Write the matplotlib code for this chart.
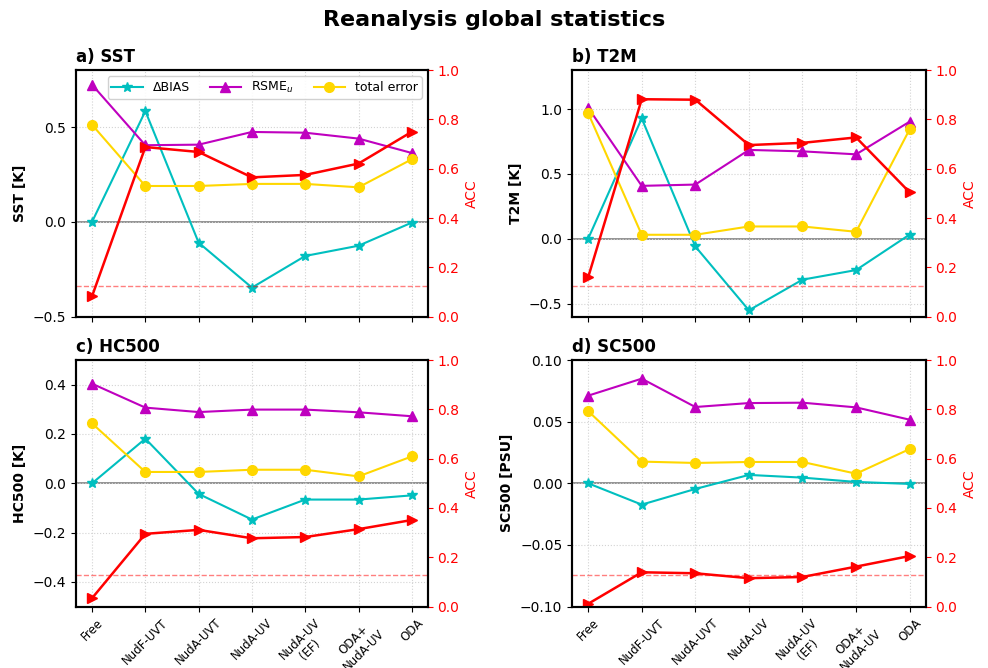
import numpy as np
import matplotlib
matplotlib.use("Agg")
import matplotlib.pyplot as plt

# experiments on the x axis
experiments = ['Free', 'NudF-UVT', 'NudA-UVT', 'NudA-UV', 'NudA-UV\n(EF)', 'ODA+\nNudA-UV', 'ODA']

# a) SST
sst_bias = [0.0, 0.584, -0.11, -0.347, -0.18, -0.126, -0.004]
sst_rmse = [0.723, 0.404, 0.407, 0.474, 0.470, 0.439, 0.363]
sst_total = [0.512, 0.189, 0.189, 0.200, 0.200, 0.182, 0.330]
sst_acc = [0.083, 0.688, 0.668, 0.565, 0.575, 0.621, 0.750]

# b) T2M
t2m_bias = [0.0, 0.928, -0.059, -0.551, -0.315, -0.241, 0.033]
t2m_rmse = [1.01, 0.408, 0.418, 0.685, 0.674, 0.651, 0.903]
t2m_total = [0.969, 0.031, 0.031, 0.095, 0.095, 0.054, 0.844]
t2m_acc = [0.159, 0.882, 0.880, 0.696, 0.705, 0.727, 0.504]

# c) HC500
hc_bias = [0.0, 0.181, -0.043, -0.147, -0.066, -0.066, -0.049]
hc_rmse = [0.404, 0.307, 0.289, 0.299, 0.299, 0.288, 0.272]
hc_total = [0.243, 0.046, 0.046, 0.055, 0.055, 0.028, 0.109]
hc_acc = [0.034, 0.295, 0.311, 0.277, 0.282, 0.314, 0.351]

# d) SC500
sc_bias = [0.0, -0.0173, -0.0046, 0.0068, 0.0046, 0.0011, -0.0005]
sc_rmse = [0.0711, 0.0849, 0.0619, 0.0651, 0.0654, 0.0616, 0.0516]
sc_total = [0.0586, 0.0176, 0.0165, 0.0173, 0.0173, 0.0078, 0.0278]
sc_acc = [0.011, 0.139, 0.135, 0.115, 0.120, 0.162, 0.205]

# ACC significance threshold
acc_sig = 0.126

panels = [
    ('a) SST', 'SST [K]', sst_bias, sst_rmse, sst_total, sst_acc, (-0.5, 0.8), [-0.5, 0.0, 0.5]),
    ('b) T2M', 'T2M [K]', t2m_bias, t2m_rmse, t2m_total, t2m_acc, (-0.6, 1.3), [-0.5, 0.0, 0.5, 1.0]),
    ('c) HC500', 'HC500 [K]', hc_bias, hc_rmse, hc_total, hc_acc, (-0.5, 0.5), [-0.4, -0.2, 0.0, 0.2, 0.4]),
    ('d) SC500', 'SC500 [PSU]', sc_bias, sc_rmse, sc_total, sc_acc, (-0.1, 0.1), [-0.10, -0.05, 0.0, 0.05, 0.10]),
]

# axes positions [left, bottom, width, height] in figure fractions
positions = [
    [0.077, 0.526, 0.356, 0.369],
    [0.579, 0.526, 0.358, 0.369],
    [0.077, 0.092, 0.356, 0.369],
    [0.579, 0.092, 0.358, 0.369],
]

fig = plt.figure(figsize=(9.88, 6.68), dpi=100)
fig.suptitle('Reanalysis global statistics', fontsize=16, fontweight='bold', y=0.985)

x = np.arange(len(experiments))

for i, (title, ylab, bias, rmse, total, acc, ylim, yticks) in enumerate(panels):
    ax = fig.add_axes(positions[i])
    ax.grid(True, linestyle=':', color='lightgray', linewidth=0.8)
    ax.axhline(0, color='gray', linewidth=1.2, zorder=1)
    ax.plot(x, bias, color='c', marker='*', markersize=7, linewidth=1.5, label='\u0394BIAS')
    ax.plot(x, rmse, color='m', marker='^', markersize=7, linewidth=1.5, label=r'RSME$_u$')
    ax.plot(x, total, color='gold', marker='o', markersize=7, linewidth=1.5, label='total error')
    ax.set_ylim(ylim)
    ax.set_yticks(yticks)
    ax.tick_params(axis='y', labelsize=10)
    ax.set_xlim(-0.3, len(experiments) - 0.7)
    ax.set_xticks(x)
    if i >= 2:
        ax.set_xticklabels(experiments, rotation=45, fontsize=8.5, ha='center')
    else:
        ax.set_xticklabels([])
    ax.set_ylabel(ylab, fontweight='bold', fontsize=10)
    ax.set_title(title, loc='left', fontweight='bold', fontsize=12)
    if i == 0:
        ax.legend(loc='upper right', ncol=3, fontsize=9, handlelength=2.5,
                  borderpad=0.3, columnspacing=1.6, framealpha=0.9)

    ax2 = ax.twinx()
    ax2.plot(x, acc, color='r', marker='>', markersize=7.5, linewidth=1.8)
    ax2.axhline(acc_sig, color='r', linestyle='--', alpha=0.5, linewidth=1)
    ax2.set_ylim(0, 1)
    ax2.set_ylabel('ACC', color='r', fontsize=10)
    ax2.tick_params(axis='y', colors='r', labelsize=10)
    ax2.spines['right'].set_color('black')
    for sp in ax.spines.values():
        sp.set_linewidth(1.5)
    for sp in ax2.spines.values():
        sp.set_linewidth(1.5)

fig.savefig('out.png', dpi=100)
